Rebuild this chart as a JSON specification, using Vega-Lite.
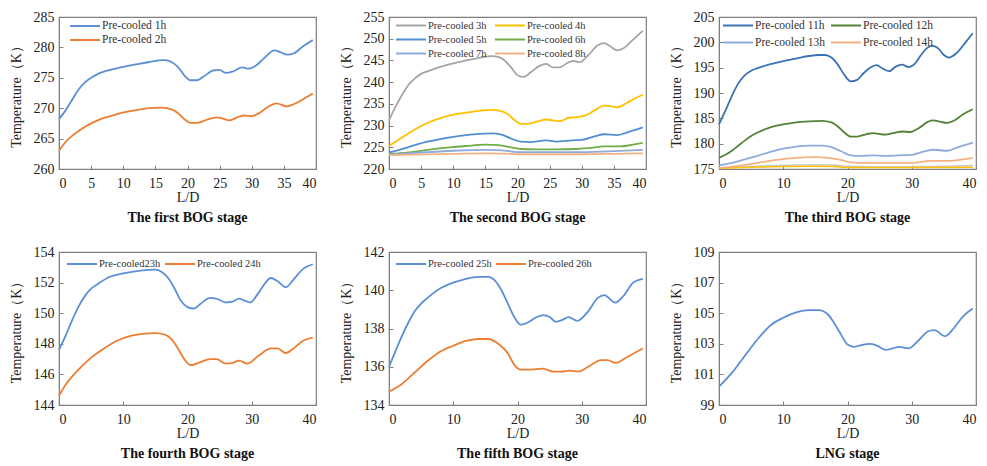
{
"$schema": "https://vega.github.io/schema/vega-lite/v6.json",
"padding": {"left": 8, "top": 9, "right": 2, "bottom": 2},
"background": "white",
"datasets": {
"p1": [
{"s":"Pre-cooled 1h","x":0,"t":268.2},{"s":"Pre-cooled 1h","x":1,"t":269.6},{"s":"Pre-cooled 1h","x":2,"t":271.3},{"s":"Pre-cooled 1h","x":3,"t":273},{"s":"Pre-cooled 1h","x":4,"t":274.2},{"s":"Pre-cooled 1h","x":5,"t":275},{"s":"Pre-cooled 1h","x":6,"t":275.6},{"s":"Pre-cooled 1h","x":7,"t":276},{"s":"Pre-cooled 1h","x":8,"t":276.3},{"s":"Pre-cooled 1h","x":10,"t":276.8},{"s":"Pre-cooled 1h","x":12,"t":277.2},{"s":"Pre-cooled 1h","x":14,"t":277.6},{"s":"Pre-cooled 1h","x":15.5,"t":277.85},{"s":"Pre-cooled 1h","x":16.5,"t":277.9},{"s":"Pre-cooled 1h","x":17.5,"t":277.6},{"s":"Pre-cooled 1h","x":18.5,"t":276.8},{"s":"Pre-cooled 1h","x":19.5,"t":275.4},{"s":"Pre-cooled 1h","x":20.5,"t":274.6},{"s":"Pre-cooled 1h","x":21.5,"t":274.6},{"s":"Pre-cooled 1h","x":22.5,"t":275.2},{"s":"Pre-cooled 1h","x":24,"t":276.2},{"s":"Pre-cooled 1h","x":25,"t":276.3},{"s":"Pre-cooled 1h","x":26,"t":275.8},{"s":"Pre-cooled 1h","x":27,"t":276},{"s":"Pre-cooled 1h","x":28.5,"t":276.7},{"s":"Pre-cooled 1h","x":29.5,"t":276.5},{"s":"Pre-cooled 1h","x":30.5,"t":276.9},{"s":"Pre-cooled 1h","x":32,"t":278.3},{"s":"Pre-cooled 1h","x":33.5,"t":279.5},{"s":"Pre-cooled 1h","x":34.5,"t":279.2},{"s":"Pre-cooled 1h","x":35.5,"t":278.8},{"s":"Pre-cooled 1h","x":36.5,"t":279},{"s":"Pre-cooled 1h","x":38,"t":280.2},{"s":"Pre-cooled 1h","x":39.5,"t":281.2},
{"s":"Pre-cooled 2h","x":0,"t":263},{"s":"Pre-cooled 2h","x":1,"t":264.4},{"s":"Pre-cooled 2h","x":2,"t":265.4},{"s":"Pre-cooled 2h","x":3,"t":266.2},{"s":"Pre-cooled 2h","x":4,"t":266.9},{"s":"Pre-cooled 2h","x":5,"t":267.5},{"s":"Pre-cooled 2h","x":6,"t":268},{"s":"Pre-cooled 2h","x":7,"t":268.4},{"s":"Pre-cooled 2h","x":8,"t":268.7},{"s":"Pre-cooled 2h","x":10,"t":269.3},{"s":"Pre-cooled 2h","x":12,"t":269.7},{"s":"Pre-cooled 2h","x":14,"t":270},{"s":"Pre-cooled 2h","x":16,"t":270.1},{"s":"Pre-cooled 2h","x":17.5,"t":269.8},{"s":"Pre-cooled 2h","x":18.5,"t":269.2},{"s":"Pre-cooled 2h","x":19.5,"t":268.2},{"s":"Pre-cooled 2h","x":20.5,"t":267.6},{"s":"Pre-cooled 2h","x":21.5,"t":267.6},{"s":"Pre-cooled 2h","x":23,"t":268.1},{"s":"Pre-cooled 2h","x":24.5,"t":268.5},{"s":"Pre-cooled 2h","x":25.5,"t":268.3},{"s":"Pre-cooled 2h","x":26.5,"t":268},{"s":"Pre-cooled 2h","x":28,"t":268.6},{"s":"Pre-cooled 2h","x":28.8,"t":268.8},{"s":"Pre-cooled 2h","x":30,"t":268.7},{"s":"Pre-cooled 2h","x":31,"t":269.1},{"s":"Pre-cooled 2h","x":32.5,"t":270.2},{"s":"Pre-cooled 2h","x":33.8,"t":270.8},{"s":"Pre-cooled 2h","x":35.5,"t":270.3},{"s":"Pre-cooled 2h","x":37,"t":270.9},{"s":"Pre-cooled 2h","x":38.5,"t":271.8},{"s":"Pre-cooled 2h","x":39.5,"t":272.4}
],
"p2": [
{"s":"Pre-cooled 3h","x":0,"t":231.2},{"s":"Pre-cooled 3h","x":1,"t":234.3},{"s":"Pre-cooled 3h","x":2,"t":237},{"s":"Pre-cooled 3h","x":3,"t":239.3},{"s":"Pre-cooled 3h","x":4,"t":240.8},{"s":"Pre-cooled 3h","x":5,"t":241.9},{"s":"Pre-cooled 3h","x":6,"t":242.5},{"s":"Pre-cooled 3h","x":8,"t":243.5},{"s":"Pre-cooled 3h","x":10,"t":244.3},{"s":"Pre-cooled 3h","x":12,"t":245},{"s":"Pre-cooled 3h","x":14,"t":245.6},{"s":"Pre-cooled 3h","x":16,"t":246},{"s":"Pre-cooled 3h","x":17,"t":245.8},{"s":"Pre-cooled 3h","x":18,"t":245},{"s":"Pre-cooled 3h","x":19,"t":243.4},{"s":"Pre-cooled 3h","x":20,"t":241.6},{"s":"Pre-cooled 3h","x":21,"t":241.2},{"s":"Pre-cooled 3h","x":22,"t":242.2},{"s":"Pre-cooled 3h","x":23.5,"t":243.8},{"s":"Pre-cooled 3h","x":24.5,"t":244.2},{"s":"Pre-cooled 3h","x":25.5,"t":243.4},{"s":"Pre-cooled 3h","x":26.5,"t":243.4},{"s":"Pre-cooled 3h","x":28,"t":244.6},{"s":"Pre-cooled 3h","x":28.7,"t":244.9},{"s":"Pre-cooled 3h","x":29.7,"t":244.6},{"s":"Pre-cooled 3h","x":31,"t":246.2},{"s":"Pre-cooled 3h","x":32.5,"t":248.5},{"s":"Pre-cooled 3h","x":33.5,"t":249},{"s":"Pre-cooled 3h","x":34.5,"t":248.2},{"s":"Pre-cooled 3h","x":35.5,"t":247.3},{"s":"Pre-cooled 3h","x":36.5,"t":247.8},{"s":"Pre-cooled 3h","x":38,"t":249.8},{"s":"Pre-cooled 3h","x":39.5,"t":251.8},
{"s":"Pre-cooled 4h","x":0,"t":225.3},{"s":"Pre-cooled 4h","x":1,"t":226.3},{"s":"Pre-cooled 4h","x":2,"t":227.2},{"s":"Pre-cooled 4h","x":3,"t":228.2},{"s":"Pre-cooled 4h","x":4,"t":229.1},{"s":"Pre-cooled 4h","x":5,"t":229.9},{"s":"Pre-cooled 4h","x":6,"t":230.6},{"s":"Pre-cooled 4h","x":8,"t":231.7},{"s":"Pre-cooled 4h","x":10,"t":232.5},{"s":"Pre-cooled 4h","x":12,"t":233},{"s":"Pre-cooled 4h","x":14,"t":233.4},{"s":"Pre-cooled 4h","x":16,"t":233.6},{"s":"Pre-cooled 4h","x":17.5,"t":233.3},{"s":"Pre-cooled 4h","x":18.5,"t":232.6},{"s":"Pre-cooled 4h","x":19.5,"t":231.3},{"s":"Pre-cooled 4h","x":20.5,"t":230.4},{"s":"Pre-cooled 4h","x":21.5,"t":230.4},{"s":"Pre-cooled 4h","x":23,"t":230.9},{"s":"Pre-cooled 4h","x":24.5,"t":231.4},{"s":"Pre-cooled 4h","x":25.5,"t":231.2},{"s":"Pre-cooled 4h","x":26.5,"t":231},{"s":"Pre-cooled 4h","x":28,"t":231.8},{"s":"Pre-cooled 4h","x":29.5,"t":232},{"s":"Pre-cooled 4h","x":30.5,"t":232.3},{"s":"Pre-cooled 4h","x":32,"t":233.5},{"s":"Pre-cooled 4h","x":33.5,"t":234.6},{"s":"Pre-cooled 4h","x":34.5,"t":234.5},{"s":"Pre-cooled 4h","x":35.5,"t":234.2},{"s":"Pre-cooled 4h","x":37,"t":235.2},{"s":"Pre-cooled 4h","x":38.5,"t":236.4},{"s":"Pre-cooled 4h","x":39.5,"t":237.1},
{"s":"Pre-cooled 5h","x":0,"t":223.8},{"s":"Pre-cooled 5h","x":2,"t":224.6},{"s":"Pre-cooled 5h","x":4,"t":225.5},{"s":"Pre-cooled 5h","x":6,"t":226.3},{"s":"Pre-cooled 5h","x":8,"t":226.9},{"s":"Pre-cooled 5h","x":10,"t":227.4},{"s":"Pre-cooled 5h","x":12,"t":227.8},{"s":"Pre-cooled 5h","x":14,"t":228.1},{"s":"Pre-cooled 5h","x":16,"t":228.2},{"s":"Pre-cooled 5h","x":17.5,"t":227.9},{"s":"Pre-cooled 5h","x":19,"t":227},{"s":"Pre-cooled 5h","x":20.5,"t":226.3},{"s":"Pre-cooled 5h","x":22,"t":226.2},{"s":"Pre-cooled 5h","x":24.5,"t":226.6},{"s":"Pre-cooled 5h","x":26,"t":226.3},{"s":"Pre-cooled 5h","x":28.5,"t":226.6},{"s":"Pre-cooled 5h","x":30,"t":226.7},{"s":"Pre-cooled 5h","x":32,"t":227.5},{"s":"Pre-cooled 5h","x":33.5,"t":228},{"s":"Pre-cooled 5h","x":35.5,"t":227.8},{"s":"Pre-cooled 5h","x":37,"t":228.4},{"s":"Pre-cooled 5h","x":39.5,"t":229.6},
{"s":"Pre-cooled 6h","x":0,"t":223.4},{"s":"Pre-cooled 6h","x":3,"t":223.8},{"s":"Pre-cooled 6h","x":6,"t":224.4},{"s":"Pre-cooled 6h","x":9,"t":224.9},{"s":"Pre-cooled 6h","x":12,"t":225.3},{"s":"Pre-cooled 6h","x":15,"t":225.6},{"s":"Pre-cooled 6h","x":17,"t":225.5},{"s":"Pre-cooled 6h","x":19,"t":225},{"s":"Pre-cooled 6h","x":20.5,"t":224.6},{"s":"Pre-cooled 6h","x":23,"t":224.5},{"s":"Pre-cooled 6h","x":26,"t":224.5},{"s":"Pre-cooled 6h","x":29,"t":224.6},{"s":"Pre-cooled 6h","x":31,"t":224.8},{"s":"Pre-cooled 6h","x":33.5,"t":225.2},{"s":"Pre-cooled 6h","x":36,"t":225.2},{"s":"Pre-cooled 6h","x":38,"t":225.6},{"s":"Pre-cooled 6h","x":39.5,"t":226},
{"s":"Pre-cooled 7h","x":0,"t":223.3},{"s":"Pre-cooled 7h","x":5,"t":223.8},{"s":"Pre-cooled 7h","x":10,"t":224.2},{"s":"Pre-cooled 7h","x":15,"t":224.4},{"s":"Pre-cooled 7h","x":17.5,"t":224.3},{"s":"Pre-cooled 7h","x":20,"t":223.9},{"s":"Pre-cooled 7h","x":25,"t":223.9},{"s":"Pre-cooled 7h","x":30,"t":223.9},{"s":"Pre-cooled 7h","x":35,"t":224.1},{"s":"Pre-cooled 7h","x":39.5,"t":224.4},
{"s":"Pre-cooled 8h","x":0,"t":223.2},{"s":"Pre-cooled 8h","x":10,"t":223.5},{"s":"Pre-cooled 8h","x":15,"t":223.6},{"s":"Pre-cooled 8h","x":18,"t":223.55},{"s":"Pre-cooled 8h","x":20,"t":223.4},{"s":"Pre-cooled 8h","x":30,"t":223.4},{"s":"Pre-cooled 8h","x":35,"t":223.5},{"s":"Pre-cooled 8h","x":39.5,"t":223.6}
],
"p3": [
{"s":"Pre-cooled 11h","x":0,"t":183.8},{"s":"Pre-cooled 11h","x":1,"t":186.5},{"s":"Pre-cooled 11h","x":2,"t":189.4},{"s":"Pre-cooled 11h","x":3,"t":191.9},{"s":"Pre-cooled 11h","x":4,"t":193.5},{"s":"Pre-cooled 11h","x":5,"t":194.4},{"s":"Pre-cooled 11h","x":6,"t":194.9},{"s":"Pre-cooled 11h","x":8,"t":195.7},{"s":"Pre-cooled 11h","x":10,"t":196.3},{"s":"Pre-cooled 11h","x":12,"t":196.8},{"s":"Pre-cooled 11h","x":14,"t":197.3},{"s":"Pre-cooled 11h","x":15.5,"t":197.5},{"s":"Pre-cooled 11h","x":16.5,"t":197.5},{"s":"Pre-cooled 11h","x":17.5,"t":197},{"s":"Pre-cooled 11h","x":18.5,"t":195.6},{"s":"Pre-cooled 11h","x":19.5,"t":193.6},{"s":"Pre-cooled 11h","x":20.5,"t":192.3},{"s":"Pre-cooled 11h","x":21.5,"t":192.6},{"s":"Pre-cooled 11h","x":22.5,"t":193.9},{"s":"Pre-cooled 11h","x":23.5,"t":195},{"s":"Pre-cooled 11h","x":24.5,"t":195.5},{"s":"Pre-cooled 11h","x":25.5,"t":194.8},{"s":"Pre-cooled 11h","x":26.5,"t":194.3},{"s":"Pre-cooled 11h","x":27.5,"t":195.2},{"s":"Pre-cooled 11h","x":28.5,"t":195.6},{"s":"Pre-cooled 11h","x":29.5,"t":195.1},{"s":"Pre-cooled 11h","x":30.5,"t":195.8},{"s":"Pre-cooled 11h","x":31.5,"t":197.6},{"s":"Pre-cooled 11h","x":32.5,"t":199},{"s":"Pre-cooled 11h","x":33.3,"t":199.3},{"s":"Pre-cooled 11h","x":34.2,"t":198.7},{"s":"Pre-cooled 11h","x":35,"t":197.5},{"s":"Pre-cooled 11h","x":35.8,"t":197},{"s":"Pre-cooled 11h","x":37,"t":197.9},{"s":"Pre-cooled 11h","x":38.5,"t":200.2},{"s":"Pre-cooled 11h","x":39.5,"t":201.8},
{"s":"Pre-cooled 12h","x":0,"t":177.2},{"s":"Pre-cooled 12h","x":1,"t":177.8},{"s":"Pre-cooled 12h","x":2,"t":178.6},{"s":"Pre-cooled 12h","x":3,"t":179.6},{"s":"Pre-cooled 12h","x":4,"t":180.6},{"s":"Pre-cooled 12h","x":5,"t":181.5},{"s":"Pre-cooled 12h","x":6,"t":182.2},{"s":"Pre-cooled 12h","x":8,"t":183.2},{"s":"Pre-cooled 12h","x":10,"t":183.8},{"s":"Pre-cooled 12h","x":12,"t":184.2},{"s":"Pre-cooled 12h","x":14,"t":184.4},{"s":"Pre-cooled 12h","x":16,"t":184.5},{"s":"Pre-cooled 12h","x":17.5,"t":184.2},{"s":"Pre-cooled 12h","x":18.5,"t":183.4},{"s":"Pre-cooled 12h","x":19.5,"t":182.2},{"s":"Pre-cooled 12h","x":20.5,"t":181.4},{"s":"Pre-cooled 12h","x":21.5,"t":181.4},{"s":"Pre-cooled 12h","x":23,"t":181.9},{"s":"Pre-cooled 12h","x":24,"t":182.1},{"s":"Pre-cooled 12h","x":25,"t":181.9},{"s":"Pre-cooled 12h","x":26,"t":181.8},{"s":"Pre-cooled 12h","x":27.5,"t":182.2},{"s":"Pre-cooled 12h","x":28.5,"t":182.4},{"s":"Pre-cooled 12h","x":29.8,"t":182.3},{"s":"Pre-cooled 12h","x":31,"t":183},{"s":"Pre-cooled 12h","x":32.5,"t":184.3},{"s":"Pre-cooled 12h","x":33.3,"t":184.6},{"s":"Pre-cooled 12h","x":34.5,"t":184.3},{"s":"Pre-cooled 12h","x":35.5,"t":184.1},{"s":"Pre-cooled 12h","x":36.5,"t":184.5},{"s":"Pre-cooled 12h","x":38,"t":185.8},{"s":"Pre-cooled 12h","x":39.5,"t":186.8},
{"s":"Pre-cooled 13h","x":0,"t":175.7},{"s":"Pre-cooled 13h","x":2,"t":176.2},{"s":"Pre-cooled 13h","x":4,"t":176.9},{"s":"Pre-cooled 13h","x":6,"t":177.6},{"s":"Pre-cooled 13h","x":8,"t":178.4},{"s":"Pre-cooled 13h","x":10,"t":179},{"s":"Pre-cooled 13h","x":12,"t":179.4},{"s":"Pre-cooled 13h","x":14,"t":179.6},{"s":"Pre-cooled 13h","x":16,"t":179.6},{"s":"Pre-cooled 13h","x":17.5,"t":179.3},{"s":"Pre-cooled 13h","x":19,"t":178.5},{"s":"Pre-cooled 13h","x":20.5,"t":177.7},{"s":"Pre-cooled 13h","x":22,"t":177.6},{"s":"Pre-cooled 13h","x":24,"t":177.7},{"s":"Pre-cooled 13h","x":26,"t":177.6},{"s":"Pre-cooled 13h","x":28,"t":177.7},{"s":"Pre-cooled 13h","x":30,"t":177.8},{"s":"Pre-cooled 13h","x":32,"t":178.5},{"s":"Pre-cooled 13h","x":33.5,"t":178.8},{"s":"Pre-cooled 13h","x":35.5,"t":178.6},{"s":"Pre-cooled 13h","x":37,"t":179.2},{"s":"Pre-cooled 13h","x":39.5,"t":180.2},
{"s":"Pre-cooled 14h","x":0,"t":175.2},{"s":"Pre-cooled 14h","x":3,"t":175.6},{"s":"Pre-cooled 14h","x":6,"t":176.2},{"s":"Pre-cooled 14h","x":9,"t":176.8},{"s":"Pre-cooled 14h","x":12,"t":177.2},{"s":"Pre-cooled 14h","x":15,"t":177.35},{"s":"Pre-cooled 14h","x":17,"t":177.2},{"s":"Pre-cooled 14h","x":19,"t":176.8},{"s":"Pre-cooled 14h","x":20.5,"t":176.3},{"s":"Pre-cooled 14h","x":23,"t":176.2},{"s":"Pre-cooled 14h","x":26,"t":176.2},{"s":"Pre-cooled 14h","x":30,"t":176.2},{"s":"Pre-cooled 14h","x":33,"t":176.6},{"s":"Pre-cooled 14h","x":36,"t":176.6},{"s":"Pre-cooled 14h","x":38,"t":176.9},{"s":"Pre-cooled 14h","x":39.5,"t":177.2}
],
"p3b": [
{"s":"a","x":0,"t":175.2},{"s":"a","x":5,"t":175.5},{"s":"a","x":10,"t":175.75},{"s":"a","x":15,"t":175.85},{"s":"a","x":18,"t":175.8},{"s":"a","x":20,"t":175.5},{"s":"a","x":25,"t":175.45},{"s":"a","x":30,"t":175.45},{"s":"a","x":35,"t":175.55},{"s":"a","x":39.5,"t":175.7},
{"s":"b","x":0,"t":175.15},{"s":"b","x":5,"t":175.35},{"s":"b","x":10,"t":175.5},{"s":"b","x":15,"t":175.55},{"s":"b","x":18,"t":175.5},{"s":"b","x":20,"t":175.3},{"s":"b","x":30,"t":175.3},{"s":"b","x":39.5,"t":175.35}
],
"p4": [
{"s":"Pre-cooled23h","x":0,"t":147.6},{"s":"Pre-cooled23h","x":1,"t":148.5},{"s":"Pre-cooled23h","x":2,"t":149.5},{"s":"Pre-cooled23h","x":3,"t":150.4},{"s":"Pre-cooled23h","x":4,"t":151.1},{"s":"Pre-cooled23h","x":5,"t":151.6},{"s":"Pre-cooled23h","x":6,"t":151.9},{"s":"Pre-cooled23h","x":8,"t":152.4},{"s":"Pre-cooled23h","x":10,"t":152.6},{"s":"Pre-cooled23h","x":13,"t":152.8},{"s":"Pre-cooled23h","x":15,"t":152.85},{"s":"Pre-cooled23h","x":16,"t":152.7},{"s":"Pre-cooled23h","x":17,"t":152.3},{"s":"Pre-cooled23h","x":18,"t":151.6},{"s":"Pre-cooled23h","x":19,"t":150.8},{"s":"Pre-cooled23h","x":20,"t":150.4},{"s":"Pre-cooled23h","x":21,"t":150.3},{"s":"Pre-cooled23h","x":22,"t":150.6},{"s":"Pre-cooled23h","x":23.5,"t":151},{"s":"Pre-cooled23h","x":24.5,"t":150.95},{"s":"Pre-cooled23h","x":26,"t":150.7},{"s":"Pre-cooled23h","x":27,"t":150.75},{"s":"Pre-cooled23h","x":28,"t":150.95},{"s":"Pre-cooled23h","x":29,"t":150.8},{"s":"Pre-cooled23h","x":29.8,"t":150.7},{"s":"Pre-cooled23h","x":31,"t":151.3},{"s":"Pre-cooled23h","x":33,"t":152.3},{"s":"Pre-cooled23h","x":34,"t":152.1},{"s":"Pre-cooled23h","x":35.3,"t":151.7},{"s":"Pre-cooled23h","x":36.5,"t":152.2},{"s":"Pre-cooled23h","x":38,"t":152.9},{"s":"Pre-cooled23h","x":39.5,"t":153.2},
{"s":"Pre-cooled 24h","x":0,"t":144.6},{"s":"Pre-cooled 24h","x":1,"t":145.3},{"s":"Pre-cooled 24h","x":3,"t":146.3},{"s":"Pre-cooled 24h","x":5,"t":147.1},{"s":"Pre-cooled 24h","x":7,"t":147.7},{"s":"Pre-cooled 24h","x":9,"t":148.2},{"s":"Pre-cooled 24h","x":11,"t":148.5},{"s":"Pre-cooled 24h","x":13,"t":148.65},{"s":"Pre-cooled 24h","x":15,"t":148.7},{"s":"Pre-cooled 24h","x":16.5,"t":148.6},{"s":"Pre-cooled 24h","x":17.5,"t":148.3},{"s":"Pre-cooled 24h","x":18.5,"t":147.7},{"s":"Pre-cooled 24h","x":19.5,"t":147},{"s":"Pre-cooled 24h","x":20.5,"t":146.6},{"s":"Pre-cooled 24h","x":22,"t":146.8},{"s":"Pre-cooled 24h","x":23.5,"t":147},{"s":"Pre-cooled 24h","x":24.5,"t":147},{"s":"Pre-cooled 24h","x":26,"t":146.7},{"s":"Pre-cooled 24h","x":27,"t":146.75},{"s":"Pre-cooled 24h","x":28,"t":146.9},{"s":"Pre-cooled 24h","x":29.3,"t":146.7},{"s":"Pre-cooled 24h","x":31,"t":147.2},{"s":"Pre-cooled 24h","x":33,"t":147.7},{"s":"Pre-cooled 24h","x":34,"t":147.7},{"s":"Pre-cooled 24h","x":35.3,"t":147.4},{"s":"Pre-cooled 24h","x":36.5,"t":147.7},{"s":"Pre-cooled 24h","x":38,"t":148.2},{"s":"Pre-cooled 24h","x":39.5,"t":148.4}
],
"p5": [
{"s":"Pre-cooled 25h","x":0,"t":136},{"s":"Pre-cooled 25h","x":1,"t":136.8},{"s":"Pre-cooled 25h","x":2,"t":137.6},{"s":"Pre-cooled 25h","x":3,"t":138.3},{"s":"Pre-cooled 25h","x":4,"t":138.9},{"s":"Pre-cooled 25h","x":5,"t":139.3},{"s":"Pre-cooled 25h","x":6,"t":139.6},{"s":"Pre-cooled 25h","x":8,"t":140.1},{"s":"Pre-cooled 25h","x":10,"t":140.4},{"s":"Pre-cooled 25h","x":12,"t":140.6},{"s":"Pre-cooled 25h","x":14,"t":140.7},{"s":"Pre-cooled 25h","x":15.5,"t":140.7},{"s":"Pre-cooled 25h","x":16.5,"t":140.5},{"s":"Pre-cooled 25h","x":17.5,"t":140},{"s":"Pre-cooled 25h","x":18.5,"t":139.3},{"s":"Pre-cooled 25h","x":19.5,"t":138.6},{"s":"Pre-cooled 25h","x":20.5,"t":138.2},{"s":"Pre-cooled 25h","x":21.5,"t":138.3},{"s":"Pre-cooled 25h","x":23,"t":138.6},{"s":"Pre-cooled 25h","x":24,"t":138.7},{"s":"Pre-cooled 25h","x":25,"t":138.6},{"s":"Pre-cooled 25h","x":26,"t":138.35},{"s":"Pre-cooled 25h","x":27,"t":138.45},{"s":"Pre-cooled 25h","x":28,"t":138.6},{"s":"Pre-cooled 25h","x":29.3,"t":138.4},{"s":"Pre-cooled 25h","x":31,"t":138.9},{"s":"Pre-cooled 25h","x":32.5,"t":139.6},{"s":"Pre-cooled 25h","x":33.5,"t":139.75},{"s":"Pre-cooled 25h","x":35.2,"t":139.35},{"s":"Pre-cooled 25h","x":36.5,"t":139.7},{"s":"Pre-cooled 25h","x":38,"t":140.4},{"s":"Pre-cooled 25h","x":39.5,"t":140.6},
{"s":"Pre-cooled 26h","x":0,"t":134.7},{"s":"Pre-cooled 26h","x":2,"t":135.1},{"s":"Pre-cooled 26h","x":4,"t":135.7},{"s":"Pre-cooled 26h","x":6,"t":136.3},{"s":"Pre-cooled 26h","x":8,"t":136.8},{"s":"Pre-cooled 26h","x":10,"t":137.1},{"s":"Pre-cooled 26h","x":12,"t":137.35},{"s":"Pre-cooled 26h","x":14,"t":137.45},{"s":"Pre-cooled 26h","x":15.5,"t":137.45},{"s":"Pre-cooled 26h","x":17,"t":137.2},{"s":"Pre-cooled 26h","x":18.5,"t":136.7},{"s":"Pre-cooled 26h","x":19.5,"t":136.1},{"s":"Pre-cooled 26h","x":20.5,"t":135.85},{"s":"Pre-cooled 26h","x":22,"t":135.85},{"s":"Pre-cooled 26h","x":24,"t":135.9},{"s":"Pre-cooled 26h","x":25.5,"t":135.75},{"s":"Pre-cooled 26h","x":27,"t":135.75},{"s":"Pre-cooled 26h","x":28,"t":135.8},{"s":"Pre-cooled 26h","x":29.5,"t":135.75},{"s":"Pre-cooled 26h","x":31,"t":136},{"s":"Pre-cooled 26h","x":33,"t":136.35},{"s":"Pre-cooled 26h","x":34,"t":136.35},{"s":"Pre-cooled 26h","x":35.3,"t":136.2},{"s":"Pre-cooled 26h","x":37,"t":136.5},{"s":"Pre-cooled 26h","x":39.5,"t":136.95}
],
"p6": [
{"s":"LNG","x":0,"t":100.2},{"s":"LNG","x":2,"t":101.1},{"s":"LNG","x":4,"t":102.2},{"s":"LNG","x":6,"t":103.3},{"s":"LNG","x":8,"t":104.2},{"s":"LNG","x":10,"t":104.7},{"s":"LNG","x":12,"t":105.05},{"s":"LNG","x":14,"t":105.2},{"s":"LNG","x":15.5,"t":105.2},{"s":"LNG","x":17,"t":104.9},{"s":"LNG","x":18,"t":104.3},{"s":"LNG","x":19,"t":103.6},{"s":"LNG","x":20,"t":102.95},{"s":"LNG","x":21,"t":102.8},{"s":"LNG","x":22,"t":102.9},{"s":"LNG","x":23.5,"t":103},{"s":"LNG","x":24.5,"t":102.9},{"s":"LNG","x":26,"t":102.6},{"s":"LNG","x":27,"t":102.7},{"s":"LNG","x":28,"t":102.8},{"s":"LNG","x":29.5,"t":102.7},{"s":"LNG","x":31,"t":103.2},{"s":"LNG","x":32.5,"t":103.8},{"s":"LNG","x":33.5,"t":103.9},{"s":"LNG","x":35.2,"t":103.5},{"s":"LNG","x":36.5,"t":104},{"s":"LNG","x":38,"t":104.8},{"s":"LNG","x":39.5,"t":105.3}
]
},
"columns": 3,
"spacing": {"row": 83, "column": 73},
"bounds": "flush",
"concat": [
{"width": 257, "height": 152, "title": {"text": "The first BOG stage"}, "data": {"name": "p1"},
 "mark": {"type": "line", "interpolate": "monotone", "strokeWidth": 1.8},
 "encoding": {
  "x": {"field": "x", "type": "quantitative", "scale": {"domain": [0, 40]}, "axis": {"values": [0,5,10,15,20,25,30,35,40], "title": "L/D"}},
  "y": {"field": "t", "type": "quantitative", "scale": {"domain": [260, 285], "zero": false}, "axis": {"values": [260,265,270,275,280,285], "title": "Temperature（K）"}},
  "color": {"field": "s", "type": "nominal", "scale": {"domain": ["Pre-cooled 1h","Pre-cooled 2h"], "range": ["#5B8FD6","#ED7D31"]}, "legend": {"orient": "none", "legendX": 10, "legendY": 0.5, "columns": 1, "title": null, "rowPadding": 0, "labelFontSize": 11.5}}
 }},
{"width": 257, "height": 152, "title": {"text": "The second BOG stage"}, "data": {"name": "p2"},
 "mark": {"type": "line", "interpolate": "monotone", "strokeWidth": 1.8},
 "encoding": {
  "x": {"field": "x", "type": "quantitative", "scale": {"domain": [0, 40]}, "axis": {"values": [0,5,10,15,20,25,30,35,40], "title": "L/D"}},
  "y": {"field": "t", "type": "quantitative", "scale": {"domain": [220, 255], "zero": false}, "axis": {"values": [220,225,230,235,240,245,250,255], "title": "Temperature（K）"}},
  "color": {"field": "s", "type": "nominal", "scale": {"domain": ["Pre-cooled 3h","Pre-cooled 4h","Pre-cooled 5h","Pre-cooled 6h","Pre-cooled 7h","Pre-cooled 8h"], "range": ["#A5A5A5","#FFC000","#4F8FD0","#70AD47","#8FAADC","#F4B183"]}, "legend": {"orient": "none", "legendX": 6, "legendY": 0, "columns": 2, "direction": "horizontal", "title": null, "rowPadding": -0.5, "columnPadding": 4, "labelFontSize": 10.5}}
 }},
{"width": 257, "height": 152, "title": {"text": "The third BOG stage"},
 "encoding": {
  "x": {"field": "x", "type": "quantitative", "scale": {"domain": [0, 40]}, "axis": {"values": [0,10,20,30,40], "title": "L/D"}},
  "y": {"field": "t", "type": "quantitative", "scale": {"domain": [175, 205], "zero": false}, "axis": {"values": [175,180,185,190,195,200,205], "title": "Temperature（K）", "labelOverlap": false}}
 },
 "layer": [
  {"data": {"name": "p3b"}, "mark": {"type": "line", "interpolate": "monotone", "strokeWidth": 1.6},
   "encoding": {
    "color": {"field": "s", "type": "nominal", "scale": {"domain": ["a","b"], "range": ["#C9C9C9","#FFC000"]}, "legend": null}
   }},
  {"data": {"name": "p3"}, "mark": {"type": "line", "interpolate": "monotone", "strokeWidth": 1.8},
   "encoding": {
    "color": {"field": "s", "type": "nominal", "scale": {"domain": ["Pre-cooled 11h","Pre-cooled 12h","Pre-cooled 13h","Pre-cooled 14h"], "range": ["#3B72B3","#548235","#8FAADC","#F4B183"]}, "legend": {"orient": "none", "legendX": 3, "legendY": 0, "columns": 2, "direction": "horizontal", "title": null, "rowPadding": 3, "columnPadding": 2, "labelFontSize": 11.5}}
   }}
 ],
 "resolve": {"scale": {"color": "independent"}, "legend": {"color": "independent"}}},
{"width": 257, "height": 153, "title": {"text": "The fourth BOG stage"}, "data": {"name": "p4"},
 "mark": {"type": "line", "interpolate": "monotone", "strokeWidth": 1.8},
 "encoding": {
  "x": {"field": "x", "type": "quantitative", "scale": {"domain": [0, 40]}, "axis": {"values": [0,10,20,30,40], "title": "L/D"}},
  "y": {"field": "t", "type": "quantitative", "scale": {"domain": [144, 154], "zero": false}, "axis": {"values": [144,146,148,150,152,154], "title": "Temperature（K）"}},
  "color": {"field": "s", "type": "nominal", "scale": {"domain": ["Pre-cooled23h","Pre-cooled 24h"], "range": ["#5B8FD6","#ED7D31"]}, "legend": {"orient": "none", "legendX": 7, "legendY": 3.5, "columns": 2, "direction": "horizontal", "title": null, "columnPadding": 0, "labelFontSize": 10.5}}
 }},
{"width": 257, "height": 153, "title": {"text": "The fifth BOG stage"}, "data": {"name": "p5"},
 "mark": {"type": "line", "interpolate": "monotone", "strokeWidth": 1.8},
 "encoding": {
  "x": {"field": "x", "type": "quantitative", "scale": {"domain": [0, 40]}, "axis": {"values": [0,10,20,30,40], "title": "L/D"}},
  "y": {"field": "t", "type": "quantitative", "scale": {"domain": [134, 142], "zero": false}, "axis": {"values": [134,136,138,140,142], "title": "Temperature（K）"}},
  "color": {"field": "s", "type": "nominal", "scale": {"domain": ["Pre-cooled 25h","Pre-cooled 26h"], "range": ["#5B8FD6","#ED7D31"]}, "legend": {"orient": "none", "legendX": 6, "legendY": 3.5, "columns": 2, "direction": "horizontal", "title": null, "columnPadding": 0, "labelFontSize": 10.5}}
 }},
{"width": 257, "height": 153, "title": {"text": "LNG stage"}, "data": {"name": "p6"},
 "mark": {"type": "line", "interpolate": "monotone", "strokeWidth": 1.8, "color": "#5B8FD6"},
 "encoding": {
  "x": {"field": "x", "type": "quantitative", "scale": {"domain": [0, 40]}, "axis": {"values": [0,10,20,30,40], "title": "L/D"}},
  "y": {"field": "t", "type": "quantitative", "scale": {"domain": [99, 109], "zero": false}, "axis": {"values": [99,101,103,105,107,109], "title": "Temperature（K）"}}
 }}
],
"resolve": {"scale": {"color": "independent"}, "legend": {"color": "independent"}},
"config": {
 "font": "Liberation Serif",
 "view": {"stroke": "#7f7f7f", "strokeWidth": 1.2},
 "axis": {"labelFont": "Liberation Serif", "labelFontSize": 14, "labelColor": "#222", "titleFont": "Liberation Serif", "titleFontSize": 14, "titleFontWeight": "normal", "titleColor": "#222", "grid": false, "domainColor": "#7f7f7f", "tickColor": "#7f7f7f", "tickSize": -4, "labelPadding": 9, "labelOverlap": false},
 "axisX": {"titlePadding": 0, "labelPadding": 11},
 "axisY": {"titlePadding": 10},
 "legend": {"labelFont": "Liberation Serif", "labelFontSize": 11, "labelColor": "#333", "symbolType": "M-1,0H3", "symbolStrokeWidth": 2, "symbolSize": 225, "labelOffset": 16, "padding": 0},
 "title": {"font": "Liberation Serif", "fontSize": 14, "fontWeight": "bold", "orient": "bottom", "color": "#111", "offset": 7}
}
}
